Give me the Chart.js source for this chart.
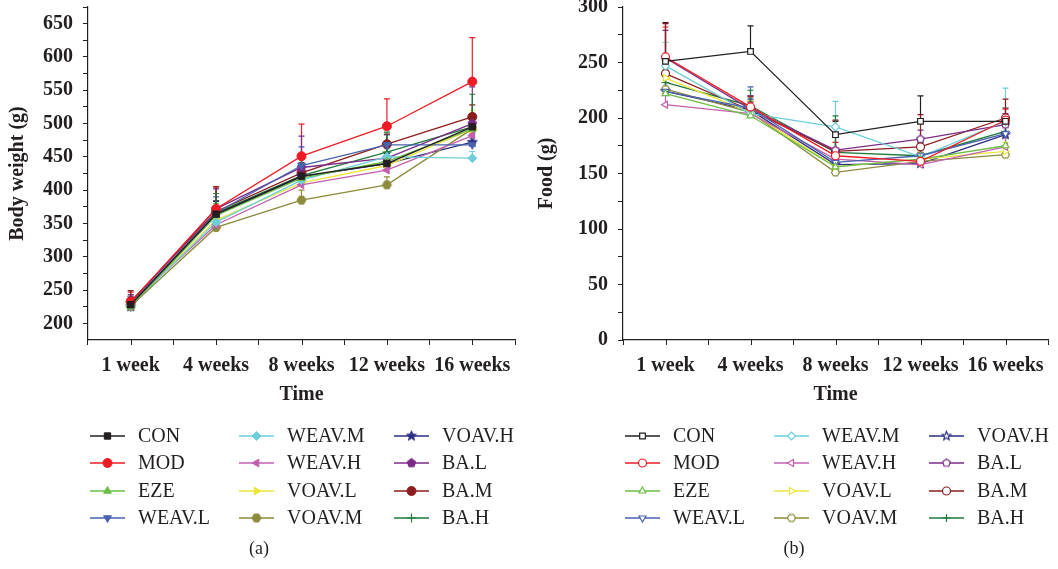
<!DOCTYPE html>
<html>
<head>
<meta charset="utf-8">
<script src="https://cdn.jsdelivr.net/npm/chart.js@4.4.1/dist/chart.umd.min.js"></script>
<style>
  html, body { margin: 0; padding: 0; background: #fff; }
  #wrap { position: relative; width: 1058px; height: 569px; }
  .panel { position: absolute; top: 0; width: 529px; height: 569px; }
  #pa { left: 0; }
  #pb { left: 529px; }
</style>
</head>
<body>
<div id="wrap">
  <div class="panel" id="pa"><canvas id="weightChart" width="529" height="569"></canvas></div>
  <div class="panel" id="pb"><canvas id="foodChart" width="529" height="569"></canvas></div>
</div>
<script>
// categories
const weeks = ['1 week', '4 weeks', '8 weeks', '12 weeks', '16 weeks'];
const groups = ['CON', 'MOD', 'EZE', 'WEAV.L', 'WEAV.M', 'WEAV.H',
                'VOAV.L', 'VOAV.M', 'VOAV.H', 'BA.L', 'BA.M', 'BA.H'];

// (a) body weight, one row per group
const weightMeans = [
    [228, 364, 421, 440, 495],
    [232, 372, 451, 496, 563],
    [226, 362, 418, 443, 492],
    [229, 366, 437, 468, 468],
    [227, 352, 415, 450, 448],
    [230, 348, 408, 430, 482],
    [228, 355, 411, 437, 492],
    [226, 344, 385, 408, 492],
    [225, 363, 420, 440, 472],
    [231, 372, 434, 448, 500],
    [233, 368, 426, 469, 510],
    [224, 366, 422, 457, 495]
];
const weightSD = [
    [12, 20, 20, 15, 20],
    [15, 33, 48, 41, 66],
    [10, 18, 18, 15, 18],
    [12, 24, 28, 15, 10],
    [10, 18, 18, 12, 10],
    [10, 15, 15, 12, 12],
    [10, 15, 15, 20, 28],
    [10, 15, 15, 12, 12],
    [12, 20, 18, 12, 12],
    [12, 30, 47, 18, 55],
    [16, 37, 25, 15, 18],
    [12, 29, 25, 30, 49]
];
const weightTicks = [200, 250, 300, 350, 400, 450, 500, 550, 600, 650];

// (b) food intake
const foodMeans = [
    [251, 260, 185, 197, 197],
    [255, 210, 166, 161, 198],
    [222, 202, 156, 163, 175],
    [224, 209, 160, 166, 186],
    [247, 204, 192, 165, 197],
    [212, 204, 163, 158, 174],
    [236, 205, 156, 163, 170],
    [226, 205, 151, 161, 167],
    [224, 207, 158, 159, 185],
    [254, 208, 171, 181, 194],
    [240, 207, 170, 174, 200],
    [232, 211, 169, 166, 188]
];
const foodSD = [
    [35, 23, 12, 23, 12],
    [27, 10, 12, 8, 10],
    [15, 10, 10, 8, 8],
    [18, 19, 10, 8, 8],
    [21, 10, 23, 8, 30],
    [15, 10, 10, 8, 8],
    [18, 10, 10, 8, 8],
    [18, 10, 10, 8, 8],
    [18, 10, 10, 8, 8],
    [25, 12, 12, 8, 10],
    [45, 12, 28, 29, 17],
    [20, 14, 33, 12, 10]
];
const foodTicks = [0, 50, 100, 150, 200, 250, 300];

// styling per group
const colors = ['#231f20', '#ed1c24', '#6cbe45', '#4a62b0', '#6dcfdb', '#c45fb0',
                '#ece63a', '#8c8a3c', '#2b2e83', '#7a2b87', '#8b1d1d', '#1f7a3c'];
const markers = ['rect', 'circle', 'triangle', 'triangle', 'rectRot', 'triangle',
                 'triangle', 'hexagon', 'star5', 'pentagon', 'circle', 'cross'];
const rotations = [0, 0, 0, 180, 0, -90, 90, 0, 0, 0, 0, 0];

const ink = '#231f20';
const serif = "'Liberation Serif', 'DejaVu Serif', serif";

// polygon markers that chart.js does not have
function shapeCanvas(kind, stroke, fill, r, lw) {
    const size = Math.ceil(r * 2 + lw * 2 + 2);
    const c = document.createElement('canvas');
    c.width = size;
    c.height = size;
    const g = c.getContext('2d');
    const cx = size / 2, cy = size / 2;
    let pts = [];
    if (kind === 'star5') {
        for (let k = 0; k < 10; k++) {
            const rr = k % 2 === 0 ? r * 1.15 : r * 0.5;
            const a = -Math.PI / 2 + k * Math.PI / 5;
            pts.push([cx + rr * Math.cos(a), cy + rr * Math.sin(a)]);
        }
    } else {
        const n = kind === 'hexagon' ? 6 : 5;
        const start = kind === 'hexagon' ? 0 : -Math.PI / 2;
        for (let k = 0; k < n; k++) {
            const a = start + k * 2 * Math.PI / n;
            pts.push([cx + r * Math.cos(a), cy + r * Math.sin(a)]);
        }
    }
    g.beginPath();
    pts.forEach((p, k) => k ? g.lineTo(p[0], p[1]) : g.moveTo(p[0], p[1]));
    g.closePath();
    g.fillStyle = fill;
    g.fill();
    g.lineWidth = lw;
    g.strokeStyle = stroke;
    g.stroke();
    return c;
}

function pointStyleFor(i, hollow, r) {
    const m = markers[i];
    if (m === 'hexagon' || m === 'pentagon' || m === 'star5') {
        return shapeCanvas(m, colors[i], hollow ? '#fff' : colors[i], r, hollow ? 1.2 : 1);
    }
    return m;
}

const errorBarPlugin = {
    id: 'errorBars',
    beforeDatasetsDraw(chart) {
        const ctx = chart.ctx;
        const yScale = chart.scales.y;
        chart.data.datasets.forEach((ds, i) => {
            const meta = chart.getDatasetMeta(i);
            ctx.save();
            ctx.strokeStyle = ds.borderColor;
            ctx.lineWidth = 1.2;
            meta.data.forEach((pt, j) => {
                const top = yScale.getPixelForValue(ds.data[j] + ds.errorBars[j]);
                ctx.beginPath();
                ctx.moveTo(pt.x, pt.y);
                ctx.lineTo(pt.x, top);
                ctx.moveTo(pt.x - 3, top);
                ctx.lineTo(pt.x + 3, top);
                ctx.stroke();
            });
            ctx.restore();
        });
    }
};

const gridLegendPlugin = {
    id: 'gridLegend',
    afterDraw(chart, args, opts) {
        const ctx = chart.ctx;
        const area = chart.chartArea;
        const xScale = chart.scales.x;

        // tick marks at category centres
        ctx.save();
        ctx.strokeStyle = ink;
        ctx.lineWidth = 1;
        weeks.forEach((w, i) => {
            const x = Math.round(xScale.getPixelForValue(i)) + 0.5;
            ctx.beginPath();
            ctx.moveTo(x, area.bottom);
            ctx.lineTo(x, area.bottom + 5);
            ctx.stroke();
        });
        ctx.restore();

        const colX = [2, 151, 306];
        const rowY = [436, 463, 491, 518];
        chart.data.datasets.forEach((ds, i) => {
            const x0 = area.left + colX[Math.floor(i / 4)];
            const y = rowY[i % 4];
            ctx.save();
            ctx.strokeStyle = ds.borderColor;
            ctx.lineWidth = 1.3;
            ctx.beginPath();
            ctx.moveTo(x0, y);
            ctx.lineTo(x0 + 35, y);
            ctx.stroke();
            ctx.fillStyle = ds.pointBackgroundColor;
            ctx.strokeStyle = ds.borderColor;
            ctx.lineWidth = ds.pointBorderWidth;
            Chart.helpers.drawPoint(ctx, {
                pointStyle: ds.pointStyle,
                rotation: ds.pointRotation,
                radius: ds.pointRadius,
                borderWidth: ds.pointBorderWidth
            }, x0 + 17.5, y);
            ctx.fillStyle = ink;
            ctx.font = '20px ' + serif;
            ctx.textBaseline = 'middle';
            ctx.fillText(ds.label, x0 + 48, y + 1);
            ctx.restore();
        });

        ctx.save();
        ctx.fillStyle = ink;
        ctx.font = '18px ' + serif;
        ctx.textAlign = 'center';
        ctx.textBaseline = 'middle';
        ctx.fillText(opts.tag, area.left + 171, 549);
        ctx.restore();
    }
};

function makeChart(id, means, sds, majorTicks, yMin, yMax, yTitle, hollow, axisWidth, padRight, tag) {
    const radius = hollow ? 4 : 4.5;
    const datasets = groups.map((g, i) => ({
        label: g,
        data: means[i],
        errorBars: sds[i],
        borderColor: colors[i],
        borderWidth: 1.3,
        pointStyle: pointStyleFor(i, hollow, radius),
        pointRotation: rotations[i],
        pointRadius: radius,
        pointBorderWidth: hollow || markers[i] === 'cross' ? 1.2 : 1,
        pointBorderColor: colors[i],
        pointBackgroundColor: hollow ? '#fff' : colors[i],
        tension: 0
    }));

    return new Chart(document.getElementById(id), {
        type: 'line',
        data: { labels: weeks, datasets },
        plugins: [errorBarPlugin, gridLegendPlugin],
        options: {
            responsive: false,
            animation: false,
            layout: { padding: { top: 7, right: padRight, bottom: 159, left: 0 } },
            plugins: {
                legend: { display: false },
                tooltip: { enabled: false },
                gridLegend: { tag }
            },
            scales: {
                x: {
                    offset: true,
                    grid: { drawOnChartArea: false, tickLength: 5, color: ink, offset: true },
                    border: { color: ink, width: 1.2 },
                    ticks: {
                        color: ink,
                        padding: 9,
                        maxRotation: 0,
                        font: { family: serif, size: 20, weight: 'bold' }
                    },
                    title: {
                        display: true,
                        text: 'Time',
                        color: ink,
                        padding: { top: 0, bottom: 3 },
                        font: { family: serif, size: 20, weight: 'bold', lineHeight: 1.2 }
                    },
                    afterFit(scale) {
                        scale.height = 70;
                        scale.paddingLeft = 0;
                        scale.paddingRight = 0;
                    }
                },
                y: {
                    min: yMin,
                    max: yMax,
                    grid: { drawOnChartArea: false, tickLength: 5, color: ink },
                    border: { color: ink, width: 1.2 },
                    afterBuildTicks(scale) {
                        const ticks = [];
                        const step = (majorTicks[1] - majorTicks[0]) / 2;
                        for (let v = majorTicks[0]; v <= yMax; v += step) ticks.push({ value: v });
                        scale.ticks = ticks;
                    },
                    ticks: {
                        color: ink,
                        padding: 10,
                        autoSkip: false,
                        font: { family: serif, size: 20, weight: 'bold' },
                        callback: (v) => majorTicks.includes(v) ? String(v) : ''
                    },
                    title: {
                        display: true,
                        text: yTitle,
                        color: ink,
                        padding: { top: 6, bottom: 0 },
                        font: { family: serif, size: 20, weight: 'bold', lineHeight: 1.2 }
                    },
                    afterFit(scale) {
                        scale.width = axisWidth;
                        scale.paddingTop = 0;
                        scale.paddingBottom = 0;
                    }
                }
            }
        }
    });
}

makeChart('weightChart', weightMeans, weightSD, weightTicks, 175, 675,
          'Body weight (g)', false, 88, 14, '(a)');
makeChart('foodChart', foodMeans, foodSD, foodTicks, 0, 300,
          'Food (g)', true, 94, 10, '(b)');
</script>
</body>
</html>
